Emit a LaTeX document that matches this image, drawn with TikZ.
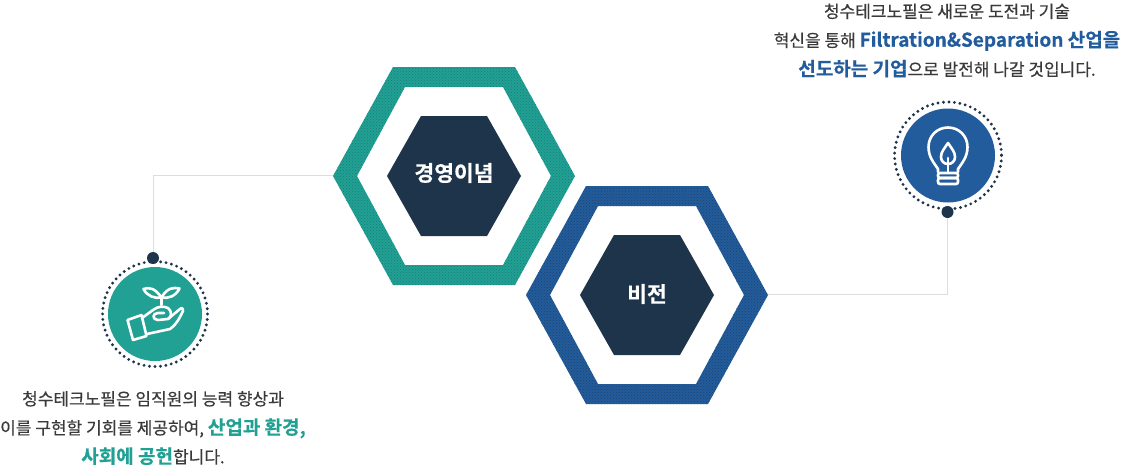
\documentclass[tikz,border=0pt]{standalone}
\usepackage{fontspec}
\setmainfont{Noto Sans CJK KR}[BoldFont={Noto Sans CJK KR Bold}, FakeBold=0.5]
\usetikzlibrary{patterns}
\definecolor{tealc}{HTML}{20A194}
\definecolor{bluec}{HTML}{225C9C}
\definecolor{navyc}{HTML}{1E344A}
\definecolor{textc}{HTML}{3A3A3A}
\definecolor{linec}{HTML}{DDDDDD}
\newcommand{\hexapath}[5]{(#1-#3,#2) -- (#1-#3+#5,#2-#4) -- (#1+#3-#5,#2-#4) -- (#1+#3,#2) -- (#1+#3-#5,#2+#4) -- (#1-#3+#5,#2+#4) -- cycle}
\newcommand{\strongtext}[2]{\textcolor{#1}{\fontsize{19}{29}\selectfont\bfseries #2}}
\tikzset{
    ringbox/.style={minimum width=242pt, minimum height=217pt, inner sep=0},
    hexlabel/.style={text=white, font=\fontsize{21.5}{25}\selectfont\bfseries},
    bodytext/.style={text=textc, align=center, font=\fontsize{17}{29}\selectfont, inner sep=0},
    badge/.style={circle, minimum size=94pt, inner sep=0},
    pin/.style={circle, fill=navyc, minimum size=12pt, inner sep=0},
    dotring/.style={navyc, line width=3.2pt, line cap=round, dash pattern=on 0pt off 5.5pt},
    linkline/.style={linec, line width=0.8pt},
    iconline/.style={white, line width=2.6pt, line cap=round, line join=round},
}
\begin{document}
\begin{tikzpicture}[x=1pt, y=-1pt]
    \useasboundingbox (0,0) rectangle (1121,469);

    % rings
    \fill[tealc, even odd rule] \hexapath{454}{176}{121}{109}{60} \hexapath{454}{176}{97}{89}{48};
    \fill[bluec, even odd rule] \hexapath{647}{295}{121}{109}{60} \hexapath{647}{295}{97}{89}{48};
    \fill[pattern=crosshatch dots, pattern color=navyc!35!tealc, even odd rule] \hexapath{454}{176}{121}{109}{60} \hexapath{454}{176}{97}{89}{48};
    \fill[pattern=crosshatch dots, pattern color=navyc!60!bluec, even odd rule] \hexapath{647}{295}{121}{109}{60} \hexapath{647}{295}{97}{89}{48};
    \fill[navyc] \hexapath{454}{176}{67}{60}{34};
    \fill[navyc] \hexapath{647}{295}{67}{60}{34};

    \node[ringbox] (missionring) at (454,175.5) {};
    \node[ringbox] (visionring) at (647,294.5) {};
    \node[hexlabel] (mission) at (454,173) {경영이념};
    \node[hexlabel] (vision) at (647,294) {비전};

    % badges
    \node[badge, fill=tealc] (seed) at (155,314) {};
    \node[badge, fill=bluec] (bulb) at (948,155.5) {};
    \draw[dotring] (155,314) circle (52.5);
    \draw[dotring] (948,155.5) circle (53.5);
    \node[pin] (seedpin) at (153,258) {};
    \node[pin] (bulbpin) at (947.5,212) {};

    \draw[linkline] (missionring.west) -| (seedpin);
    \draw[linkline] (visionring.east) -| (bulbpin);

    % seedling in a hand
    \draw[iconline] (161.5,297.5) .. controls (155,288) and (149,287) .. (143.5,289) .. controls (147,296) and (155,299) .. (161.5,297.5)
        .. controls (168,299) and (176,296) .. (179.5,288.5) .. controls (173,287) and (167,288) .. (161.5,297.5) -- (161.5,305);
    \draw[iconline] (127.5,320) -- (141.5,315) -- (146.5,336) -- (133,340) -- cycle;
    \draw[iconline] (142,318) -- (153,310) .. controls (158,306) and (164,306) .. (168,308) .. controls (172,311) and (172,317) .. (168,319)
        -- (158,320) .. controls (152,320) and (152,313) .. (158,313) -- (164,313);
    \draw[iconline] (168,319) -- (180,309) .. controls (182,307) and (184,309) .. (183,311) .. controls (179,319) and (176,325) .. (170,329)
        -- (147,334);

    % light bulb
    \draw[iconline] (938,172) -- (938,169) .. controls (934,163) and (928.5,157) .. (928.5,147) .. controls (928.5,136) and (937,127.5) .. (948,127.5)
        .. controls (959,127.5) and (967.5,136) .. (967.5,147) .. controls (967.5,157) and (962,163) .. (958,169) -- (958,172);
    \draw[iconline] (948,143) .. controls (944,149) and (941,152) .. (941,157) .. controls (941,161) and (944,164) .. (948,164)
        .. controls (952,164) and (955,161) .. (955,157) .. controls (955,152) and (952,149) .. (948,143) -- cycle;
    \draw[iconline] (948,172) -- (948,158);
    \draw[iconline, rounded corners=2pt] (938,173) rectangle (958,178);
    \draw[iconline, rounded corners=2pt] (938,178) rectangle (958,184);

    % texts
    \node[bodytext] (seedtext) at (153,428) {청수테크노필은 임직원의 능력 향상과\\이를 구현할 기회를 제공하여, \strongtext{tealc}{산업과 환경,}\\\strongtext{tealc}{사회에 공헌}합니다.};
    \node[bodytext] (bulbtext) at (947,40.5) {청수테크노필은 새로운 도전과 기술\\혁신을 통해 \strongtext{bluec}{Filtration\&Separation 산업을}\\\strongtext{bluec}{선도하는 기업}으로 발전해 나갈 것입니다.};
\end{tikzpicture}
\end{document}
